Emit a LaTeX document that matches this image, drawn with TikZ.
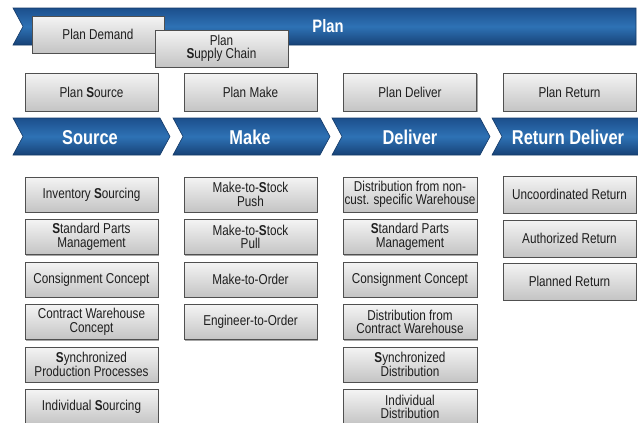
\documentclass[tikz,border=0pt]{standalone}
\usepackage{fontspec}
\setmainfont{Liberation Sans}[FakeStretch=0.82]
\newfontfamily\bannerfont{Liberation Sans}[FakeStretch=0.82]
\usetikzlibrary{shadows}
\definecolor{boxtext}{HTML}{1E1E1E}
\definecolor{boxtop}{HTML}{F4F4F4}
\definecolor{boxbot}{HTML}{C4C4C4}
\definecolor{boxedge}{HTML}{505050}
\definecolor{bluetop}{HTML}{1C4F8C}
\definecolor{bluemid}{HTML}{2E72B5}
\definecolor{bluebot}{HTML}{174277}
\definecolor{blueedge}{HTML}{143A68}
\tikzset{
  procbox/.style={draw=boxedge, line width=0.8pt, top color=boxtop, bottom color=boxbot,
    minimum width=133pt, minimum height=35pt, inner sep=0pt, align=center, text=boxtext,
    font=\fontsize{14.3}{13.6}\selectfont,
    drop shadow={shadow xshift=1.2pt, shadow yshift=-1.2pt, opacity=0.35, fill=black}},
  retbox/.style={procbox, minimum height=37pt},
  planbox/.style={procbox, minimum height=38pt},
  chev/.style={draw=blueedge, line width=0.6pt, top color=bluetop, bottom color=bluebot, middle color=bluemid},
  chevtext/.style={text=white, font=\bannerfont\bfseries\fontsize{20}{22}\selectfont, inner sep=0pt},
}
\begin{document}
\begin{tikzpicture}[x=1pt,y=-1pt]
\useasboundingbox (0,0) rectangle (638,423);
\clip (0,0) rectangle (638,423);
% Plan banner
\path[chev] (13,8) -- (636,8) -- (636,45) -- (13,45) -- (23,26.5) -- cycle;
\node[chevtext, font=\bannerfont\bfseries\fontsize{18}{20}\selectfont] (plan) at (328,26) {Plan};
\node[procbox, minimum width=132pt, minimum height=37pt] (pdemand) at (98,34.5) {Plan Demand};
\node[procbox, minimum height=37pt] (psc) at (221.5,48.5) {Plan\\\textbf{S}upply Chain};
% plan row
\node[planbox] (psource) at (91.5,92) {Plan \textbf{S}ource};
\node[planbox] (pmake) at (250.5,92) {Plan Make};
\node[planbox] (pdeliver) at (410,92) {Plan Deliver};
\node[planbox] (preturn) at (569.5,92) {Plan Return};
% chevrons
\path[chev] (13,118) -- (160,118) -- (170,136.5) -- (160,155) -- (13,155) -- (23,136.5) -- cycle;
\path[chev] (173,118) -- (320,118) -- (330,136.5) -- (320,155) -- (173,155) -- (183,136.5) -- cycle;
\path[chev] (332,118) -- (480,118) -- (490,136.5) -- (480,155) -- (332,155) -- (342,136.5) -- cycle;
\path[chev] (492,118) -- (645,118) -- (645,155) -- (492,155) -- (502,136.5) -- cycle;
\node[chevtext] (source) at (90,137.5) {Source};
\node[chevtext] (make) at (250,137.5) {Make};
\node[chevtext] (deliver) at (410,137.5) {Deliver};
\node[chevtext] (return) at (568,137.5) {Return Deliver};
% Source column
\node[procbox] (s1) at (91.5,194.5) {Inventory \textbf{S}ourcing};
\node[procbox] (s2) at (91.5,237) {\textbf{S}tandard Parts\\Management};
\node[procbox] (s3) at (91.5,279.5) {Consignment Concept};
\node[procbox] (s4) at (91.5,322) {Contract Warehouse\\Concept};
\node[procbox] (s5) at (91.5,364.5) {\textbf{S}ynchronized\\Production Processes};
\node[procbox] (s6) at (91.5,407) {Individual \textbf{S}ourcing};
% Make column
\node[procbox] (m1) at (250.5,194.5) {Make-to-\textbf{S}tock\\Push};
\node[procbox] (m2) at (250.5,237) {Make-to-\textbf{S}tock\\Pull};
\node[procbox] (m3) at (250.5,279.5) {Make-to-Order};
\node[procbox] (m4) at (250.5,322) {Engineer-to-Order};
% Deliver column
\node[procbox, minimum width=134pt] (d1) at (410,194.5) {Distribution from non-\\cust. specific Warehouse};
\node[procbox, minimum width=134pt] (d2) at (410,237) {\textbf{S}tandard Parts\\Management};
\node[procbox, minimum width=134pt] (d3) at (410,279.5) {Consignment Concept};
\node[procbox, minimum width=134pt] (d4) at (410,322) {Distribution from\\Contract Warehouse};
\node[procbox, minimum width=134pt] (d5) at (410,364.5) {\textbf{S}ynchronized\\Distribution};
\node[procbox, minimum width=134pt] (d6) at (410,407) {Individual\\Distribution};
% Return column
\node[retbox] (r1) at (569.5,194.5) {Uncoordinated Return};
\node[retbox] (r2) at (569.5,238.5) {Authorized Return};
\node[retbox] (r3) at (569.5,281.5) {Planned Return};
\end{tikzpicture}
\end{document}
